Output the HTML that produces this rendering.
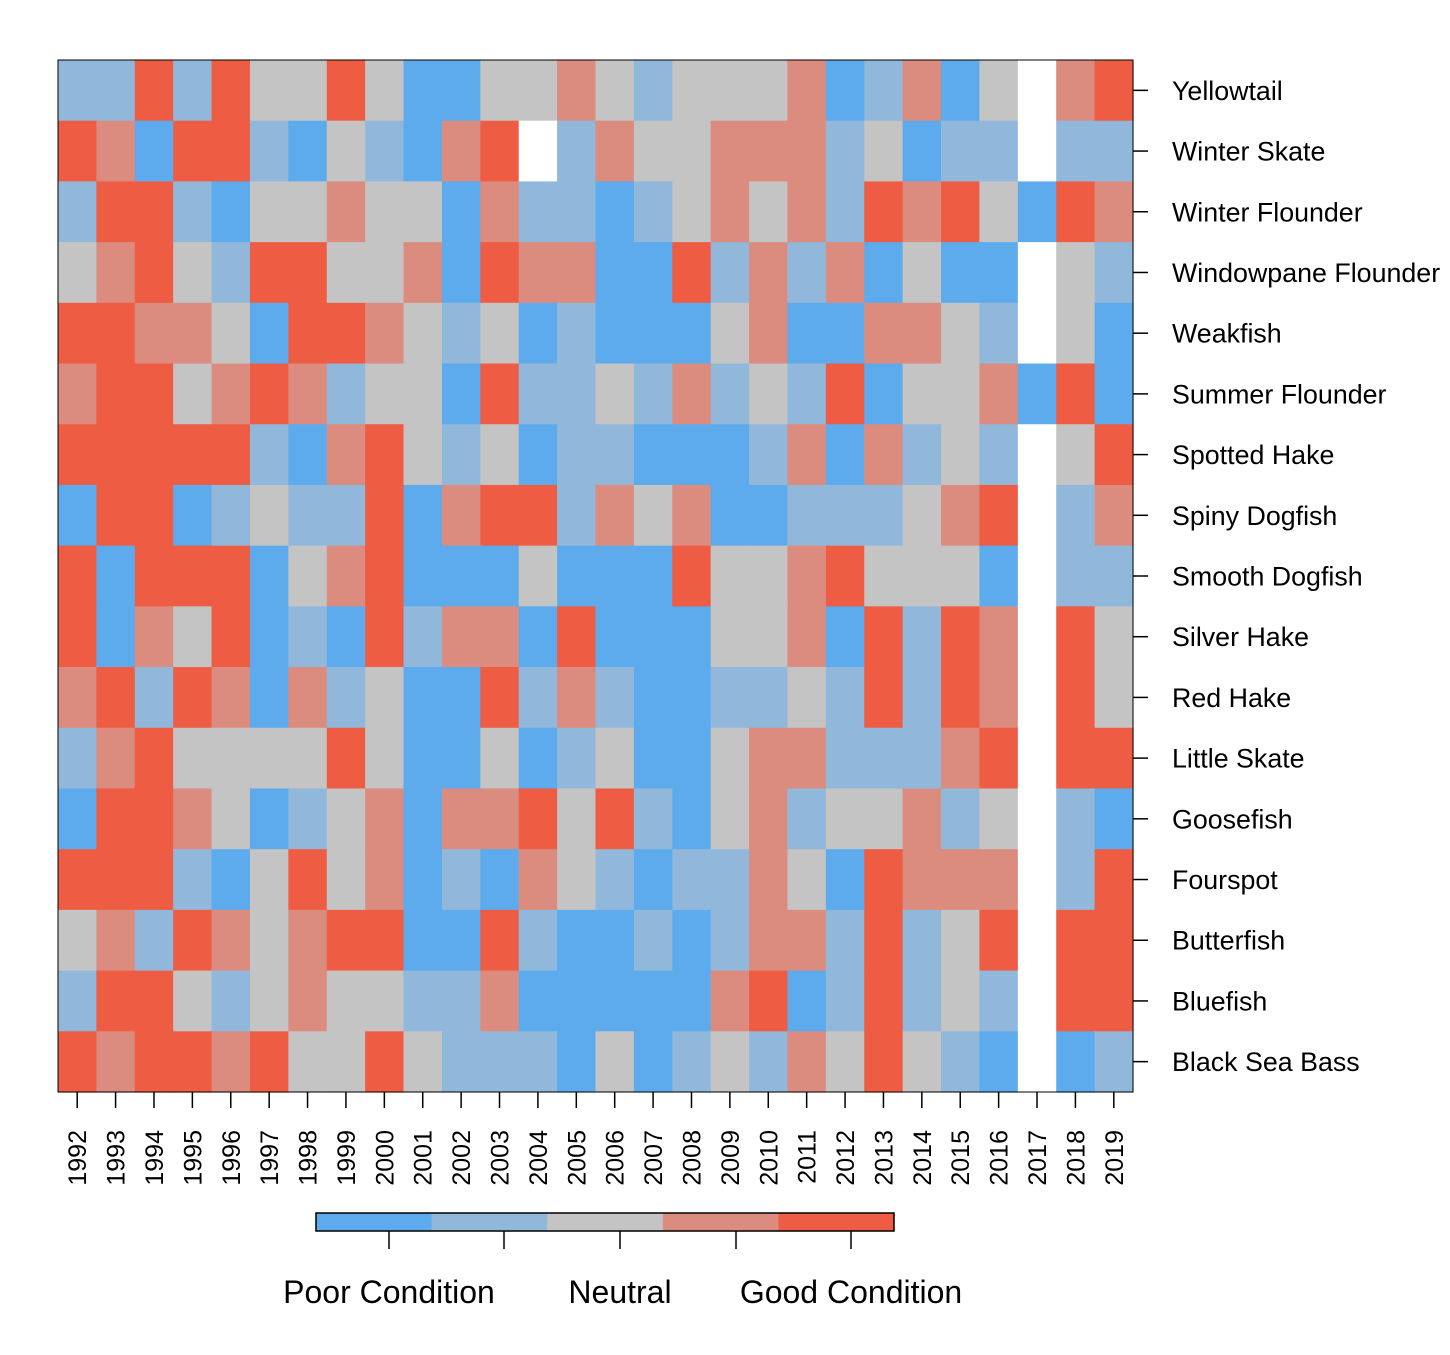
<!DOCTYPE html>
<html><head><meta charset="utf-8"><style>
body{margin:0;background:#fff}
svg text{font-family:"Liberation Sans",Arial,sans-serif;fill:#000}
</style></head><body>
<svg id="chart" width="1450" height="1350" viewBox="0 0 1450 1350" xmlns="http://www.w3.org/2000/svg"></svg>
<script>
const years = [1992,1993,1994,1995,1996,1997,1998,1999,2000,2001,2002,2003,2004,2005,2006,2007,2008,2009,2010,2011,2012,2013,2014,2015,2016,2017,2018,2019];
const species = ["Yellowtail","Winter Skate","Winter Flounder","Windowpane Flounder","Weakfish","Summer Flounder","Spotted Hake","Spiny Dogfish","Smooth Dogfish","Silver Hake","Red Hake","Little Skate","Goosefish","Fourspot","Butterfish","Bluefish","Black Sea Bass"];
// condition levels: B poor .. R good, N = missing
const condYellowtail        = "LLRLRGGRGBBGGSGLGGGSBLSBGNSR";
const condWinterSkate       = "RSBRRLBGLBSRNLSGGSSSLGBLLNLL";
const condWinterFlounder    = "LRRLBGGSGGBSLLBLGSGSLRSRGBRS";
const condWindowpane        = "GSRGLRRGGSBRSSBBRLSLSBGBBNGL";
const condWeakfish          = "RRSSGBRRSGLGBLBBBGSBBSSGLNGB";
const condSummerFlounder    = "SRRGSRSLGGBRLLGLSLGLRBGGSBRB";
const condSpottedHake       = "RRRRRLBSRGLGBLLBBBLSBSLGLNGR";
const condSpinyDogfish      = "BRRBLGLLRBSRRLSGSBBLLLGSRNLS";
const condSmoothDogfish     = "RBRRRBGSRBBBGBBBRGGSRGGGBNLL";
const condSilverHake        = "RBSGRBLBRLSSBRBBBGGSBRLRSNRG";
const condRedHake           = "SRLRSBSLGBBRLSLBBLLGLRLRSNRG";
const condLittleSkate       = "LSRGGGGRGBBGBLGBBGSSLLLSRNRR";
const condGoosefish         = "BRRSGBLGSBSSRGRLBGSLGGSLGNLB";
const condFourspot          = "RRRLBGRGSBLBSGLBLLSGBRSSSNLR";
const condButterfish        = "GSLRSGSRRBBRLBBLBLSSLRLGRNRR";
const condBluefish          = "LRRGLGSGGLLSBBBBBSRBLRLGLNRR";
const condBlackSeaBass      = "RSRRSRGGRGLLLBGBLGLSGRGLBNBL";
const rows = [condYellowtail,condWinterSkate,condWinterFlounder,condWindowpane,condWeakfish,condSummerFlounder,condSpottedHake,condSpinyDogfish,condSmoothDogfish,condSilverHake,condRedHake,condLittleSkate,condGoosefish,condFourspot,condButterfish,condBluefish,condBlackSeaBass];
const legendLabels = ["Poor Condition","Neutral","Good Condition"];

const NS="http://www.w3.org/2000/svg";
const svg=document.getElementById('chart');
const X0=58,X1=1133,Y0=60,Y1=1092;
const cw=(X1-X0)/years.length, ch=(Y1-Y0)/species.length;
const palette={B:"#5DABED",L:"#91B8DA",G:"#C4C4C4",S:"#DB8C7E",R:"#EE5C43",N:"#FFFFFF"};
const xPos=i=>X0+i*cw, yPos=j=>Y0+j*ch;
function mk(t,a){const e=document.createElementNS(NS,t);for(const k in a)e.setAttribute(k,a[k]);svg.appendChild(e);return e;}

rows.forEach((r,j)=>{
  [...r].forEach((c,i)=>{
    const e=mk('rect',{x:xPos(i),y:yPos(j),width:cw+0.6,height:ch+0.6,fill:palette[c]});
    
    
  });
});
const frame=mk('rect',{x:X0,y:Y0,width:X1-X0,height:Y1-Y0,fill:'none',stroke:'#000','stroke-width':1});



species.forEach((s,j)=>{
  const y=yPos(j)+ch/2;
  const t=mk('line',{x1:X1,x2:X1+15,y1:y,y2:y,stroke:'#000','stroke-width':1.5});
  
  
  const l=mk('text',{x:1172,y:y+9.5,'font-size':26.8});
  l.textContent=s;
  
  
});
years.forEach((yr,i)=>{
  const x=xPos(i)+cw/2;
  const t=mk('line',{x1:x,x2:x,y1:Y1,y2:Y1+16,stroke:'#000','stroke-width':1.5});
  
  
  const l=mk('text',{x:x+9,y:1130,'font-size':25,'text-anchor':'end',transform:`rotate(-90 ${x+9} 1130)`});
  l.textContent=yr;
  
  
});
// legend
const LX=316,LW=578,LY=1213,LH=18,segs=["B","L","G","S","R"];
segs.forEach((c,k)=>{
  const e=mk('rect',{x:LX+k*LW/5,y:LY,width:LW/5+0.5,height:LH,fill:palette[c]});
  
  
});
const lf=mk('rect',{x:LX,y:LY,width:LW,height:LH,fill:'none',stroke:'#000','stroke-width':1.5});


[389,504,620,736,851].forEach(x=>{
  const t=mk('line',{x1:x,x2:x,y1:LY+LH,y2:1249,stroke:'#000','stroke-width':1.5});
  
  
});
[389,620,851].forEach((x,k)=>{
  const l=mk('text',{x:x,y:1303,'font-size':32,'text-anchor':'middle'});
  l.textContent=legendLabels[k];
  
  
});
</script>
</body></html>
